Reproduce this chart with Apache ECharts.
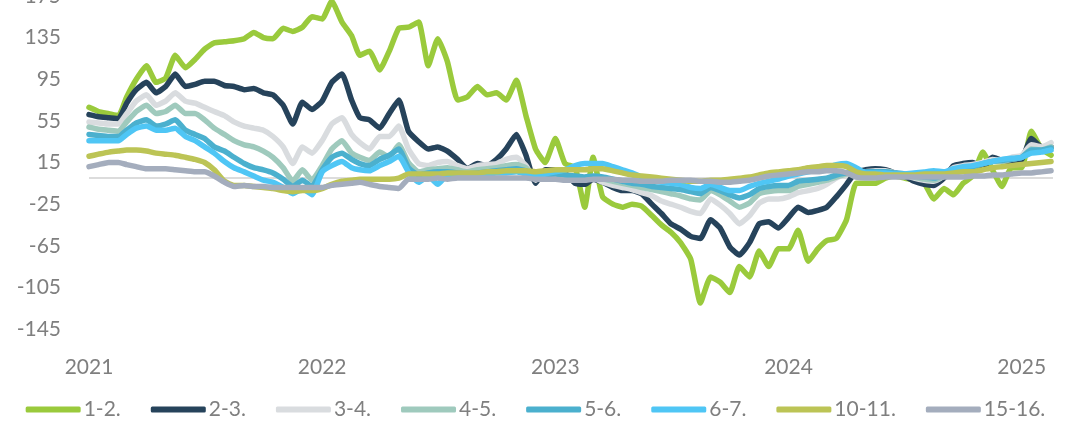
<!DOCTYPE html>
<html><head><meta charset="utf-8">
<script src="https://cdn.jsdelivr.net/npm/echarts@6/dist/echarts.min.js"></script>
<style>html,body{margin:0;padding:0;background:#fff}#c{width:1071px;height:423px}</style>
</head><body><div id="c"></div>
<script>
// semi-monthly observation dates (1st and 16th), 2021-01-01 .. 2025-02-16
const dates = [];
for (let y = 2021; y <= 2025; y++) {
  for (let m = 1; m <= 12; m++) {
    if (y === 2025 && m > 2) break;
    for (const d of [1, 16]) dates.push(y + '-' + String(m).padStart(2, '0') + '-' + String(d).padStart(2, '0'));
  }
}
const seriesNames = ['1-2.', '2-3.', '3-4.', '4-5.', '5-6.', '6-7.', '10-11.', '15-16.'];
const yTicks = { min: -145, max: 175, step: 40 };
const xYears = [2021, 2022, 2023, 2024, 2025];

const s12 = [68,64,62,60,78,95,108,92,96,118, 106,114,124,130,131,132,134,140,135,134, 144,141,145,155,153,170,150,137,118,122, 104,122,144,145,150,108,134,112,75,78, 88,80,82,75,94,60,28,15,38,14, 10,-28,20,-18,-25,-28,-25,-27,-36,-45, -52,-62,-78,-120,-95,-100,-110,-85,-95,-70, -85,-68,-68,-50,-80,-68,-60,-58,-40,-5, -5,-5,0,2,0,-2,-5,-20,-10,-16, -5,2,25,8,-8,10,10,45,28,22];
const s23 = [61,59,58,57,72,85,92,82,88,100, 88,90,93,93,89,88,85,86,82,80, 70,52,73,66,74,92,100,75,58,56, 48,62,75,45,35,28,30,26,18,9, 14,12,18,28,42,22,-5,8,8,5, -5,-6,-1,-4,-9,-12,-12,-15,-25,-34, -44,-49,-56,-58,-40,-48,-66,-74,-62,-44, -42,-48,-38,-28,-33,-31,-28,-18,-6,6, 8,9,8,5,2,-3,-6,-7,0,12, 14,15,10,20,17,16,18,38,30,30];
const s34 = [54,53,52,52,62,74,80,70,74,82, 74,72,68,64,60,54,50,48,46,40, 30,14,30,24,36,52,58,42,34,28, 40,40,50,28,14,12,15,16,12,9, 12,13,14,18,20,12,-2,5,5,3, 0,-1,0,-4,-7,-9,-11,-14,-17,-22, -25,-28,-32,-34,-20,-26,-34,-44,-36,-24, -20,-20,-18,-14,-12,-10,-6,0,4,6, 6,7,7,5,3,0,-2,-3,2,10, 12,13,15,18,17,20,22,32,30,34];
const s45 = [49,47,46,45,54,64,70,62,64,70, 62,62,56,48,42,36,32,30,26,20, 10,-3,8,-2,12,28,36,24,20,17, 25,20,32,15,6,8,9,10,8,6, 8,9,10,12,13,10,0,4,4,3, 1,0,0,-1,-3,-5,-7,-9,-11,-13, -15,-17,-20,-21,-12,-16,-22,-28,-24,-15, -13,-12,-12,-8,-6,-4,-2,1,4,5, 5,6,6,5,3,1,-1,-2,2,8, 10,11,14,16,16,18,20,28,27,30];
const s56 = [42,41,40,40,46,53,56,50,52,56, 46,42,38,30,26,20,14,10,8,5, -1,-8,-2,-8,8,20,24,18,14,12, 18,22,28,10,3,5,6,6,5,4, 5,6,7,8,9,7,1,3,4,3, 2,1,2,1,-1,-3,-5,-6,-8,-9, -10,-11,-13,-15,-9,-12,-16,-19,-16,-10, -8,-7,-7,-3,-2,-1,0,3,5,5, 6,6,6,5,4,2,1,0,3,8, 10,11,14,16,17,18,20,27,27,29];
const s67 = [36,36,36,36,42,48,50,46,46,48, 40,36,30,24,16,10,6,2,-2,-4, -9,-15,-10,-16,6,12,16,10,8,7, 12,16,21,6,-4,2,-6,3,2,4, 4,4,5,5,6,4,2,4,6,8, 12,14,14,14,11,8,5,1,-2,-4, -5,-6,-9,-10,-6,-9,-12,-12,-8,-5, -3,-1,2,4,6,8,10,13,14,10, 5,5,5,4,4,5,6,7,6,9, 11,12,14,16,18,19,20,24,25,27];
const s1011 = [21,23,25,26,27,27,26,24,23,22, 20,18,15,8,-3,-7,-7,-8,-9,-10, -12,-13,-12,-12,-10,-6,-3,-2,-1,-1, -1,-1,0,4,4,4,4,5,5,5, 5,6,6,7,7,7,6,7,8,8, 8,8,9,9,7,5,3,2,1,0, -1,-2,-3,-3,-2,-2,-1,0,1,3, 5,6,7,8,10,11,12,12,11,6, 4,4,3,3,3,3,4,4,4,5, 6,6,8,10,11,12,13,14,15,16];
const s1516 = [11,13,15,15,13,11,9,9,9,8, 7,6,6,2,-4,-8,-7,-8,-8,-9, -9,-9,-9,-9,-9,-7,-6,-5,-4,-6, -8,-9,-10,-1,-1,-1,0,-1,0,0, 0,0,0,0,0,0,-1,-1,-1,-2, -2,-2,-1,-1,-1,-2,-2,-3,-3,-3, -2,-2,-2,-3,-3,-4,-4,-3,-2,0, 2,3,4,5,6,6,7,7,5,1, 0,0,1,1,1,1,1,1,1,1, 1,2,2,3,3,4,5,5,6,7];

const allValues = [s12, s23, s34, s45, s56, s67, s1011, s1516];
const colors = ['#9ACA3C', '#26435B', '#D9DCDF', '#9FCABD', '#4BB0CE', '#4FC6F5', '#BCC455', '#A4ADBD'];

function toYear(s) {
  const [y, m, d] = s.split('-').map(Number);
  const a = Date.UTC(y, 0, 1), b = Date.UTC(y + 1, 0, 1);
  return y + (Date.UTC(y, m - 1, d) - a) / (b - a);
}
const xs = dates.map(toYear);
const xMax = toYear('2025-02-19');

const FONT = 'Lato, "Open Sans", sans-serif';
const GREY = '#7f7f7f';

const series = seriesNames.map((name, k) => {
  const s = {
    name, type: 'line', showSymbol: false, symbol: 'none', smooth: 0.15,
    data: xs.map((x, i) => [x, allValues[k][i]]),
    lineStyle: { width: 5.5, color: colors[k], cap: 'round', join: 'round' },
    itemStyle: { color: colors[k] },
    emphasis: { disabled: true }
  };
  if (k === 0) {
    s.markLine = {
      silent: true, symbol: ['none', 'none'], label: { show: false },
      lineStyle: { color: '#dcdcdc', width: 2, type: 'solid' },
      data: [{ yAxis: 0 }], animation: false, z: 1
    };
  }
  return s;
});

const chart = echarts.init(document.getElementById('c'), null, { renderer: 'canvas' });
chart.setOption({
  animation: false,
  backgroundColor: '#ffffff',
  textStyle: { fontFamily: FONT },
  grid: { left: 89, right: 18, top: -4, height: 333, containLabel: false, outerBoundsMode: 'none' },
  legend: {
    data: seriesNames, bottom: -2, left: 'center',
    icon: 'roundRect', itemWidth: 55, itemHeight: 6, itemGap: 30,
    textStyle: { color: GREY, fontSize: 21, fontFamily: FONT, padding: [0, 0, 0, -2] }
  },
  xAxis: {
    type: 'value', min: xYears[0], max: xMax, interval: 1,
    axisLine: { show: false }, axisTick: { show: false }, splitLine: { show: false },
    axisLabel: {
      color: GREY, fontSize: 21, fontFamily: FONT, margin: 28, showMaxLabel: false,
      formatter: v => (xYears.includes(Math.round(v)) && Math.abs(v - Math.round(v)) < 1e-6) ? String(Math.round(v)) : ''
    }
  },
  yAxis: {
    type: 'value', min: yTicks.min, max: yTicks.max, interval: yTicks.step,
    axisLine: { show: false }, axisTick: { show: false }, splitLine: { show: false },
    axisLabel: { color: GREY, fontSize: 21, fontFamily: FONT, margin: 28 }
  },
  series
});
</script></body></html>
